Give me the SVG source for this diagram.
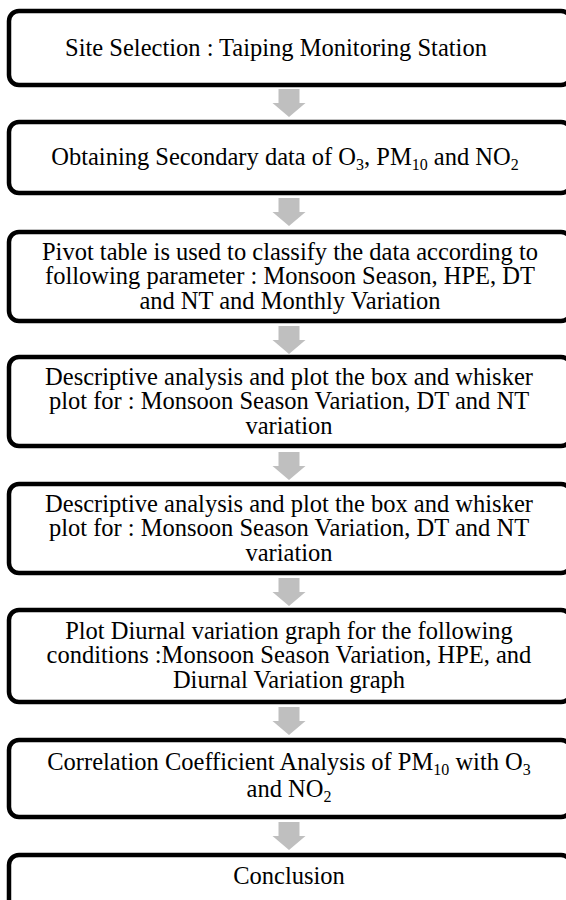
<svg xmlns="http://www.w3.org/2000/svg" width="566" height="900" viewBox="0 0 566 900">
<style>
.box{fill:#fff;stroke:#000;stroke-width:4.5}
.t{font-family:"Liberation Serif","Times New Roman",serif;font-size:24.5px;fill:#000;text-anchor:middle}
.s{font-size:16px}
.arr{fill:#bfbfbf}
</style>
<defs>
<path id="ar" d="M-10.5,0 H10.5 V14 H16.5 L0,28 L-16.5,14 H-10.5 Z"/>
</defs>
<rect width="566" height="900" fill="#fff"/>
<g id="connectors">
<use href="#ar" class="arr" x="289" y="89"/>
<use href="#ar" class="arr" x="289" y="198"/>
<use href="#ar" class="arr" x="289" y="326"/>
<use href="#ar" class="arr" x="289" y="452"/>
<use href="#ar" class="arr" x="289" y="578"/>
<use href="#ar" class="arr" x="289" y="707"/>
<use href="#ar" class="arr" x="289" y="822"/>
</g>
<g id="n1"><rect class="box" x="9" y="11" width="562" height="74" rx="10"/>
<text class="t" x="276" y="56">Site Selection : Taiping Monitoring Station</text></g>
<g id="n2"><rect class="box" x="9" y="122" width="562" height="71" rx="10"/>
<text class="t" x="285" y="165">Obtaining Secondary data of O<tspan class="s" dy="5">3</tspan><tspan dy="-5">, PM</tspan><tspan class="s" dy="5">10</tspan><tspan dy="-5"> and NO</tspan><tspan class="s" dy="5">2</tspan></text></g>
<g id="n3"><rect class="box" x="9" y="232" width="562" height="89" rx="10"/>
<text class="t" x="290" y="259.5">Pivot table is used to classify the data according to</text>
<text class="t" x="290" y="284">following parameter : Monsoon Season, HPE, DT</text>
<text class="t" x="290" y="308.5">and NT and Monthly Variation</text></g>
<g id="n4"><rect class="box" x="9" y="357" width="562" height="89" rx="10"/>
<text class="t" x="289" y="384.5">Descriptive analysis and plot the box and whisker</text>
<text class="t" x="289" y="409">plot for : Monsoon Season Variation, DT and NT</text>
<text class="t" x="289" y="433.5">variation</text></g>
<g id="n5"><rect class="box" x="9" y="484" width="562" height="89" rx="10"/>
<text class="t" x="289" y="511.5">Descriptive analysis and plot the box and whisker</text>
<text class="t" x="289" y="536">plot for : Monsoon Season Variation, DT and NT</text>
<text class="t" x="289" y="560.5">variation</text></g>
<g id="n6"><rect class="box" x="9" y="610" width="562" height="92" rx="10"/>
<text class="t" x="289" y="638.5">Plot Diurnal variation graph for the following</text>
<text class="t" x="289" y="663">conditions :Monsoon Season Variation, HPE, and</text>
<text class="t" x="289" y="687.5">Diurnal Variation graph</text></g>
<g id="n7"><rect class="box" x="9" y="740" width="562" height="77" rx="10"/>
<text class="t" x="289" y="770">Correlation Coefficient Analysis of PM<tspan class="s" dy="5">10</tspan><tspan dy="-5"> with O</tspan><tspan class="s" dy="5">3</tspan></text>
<text class="t" x="289" y="797">and NO<tspan class="s" dy="5">2</tspan></text></g>
<g id="n8"><rect class="box" x="9" y="855" width="562" height="60" rx="10"/>
<text class="t" x="289" y="884">Conclusion</text></g>
</svg>
